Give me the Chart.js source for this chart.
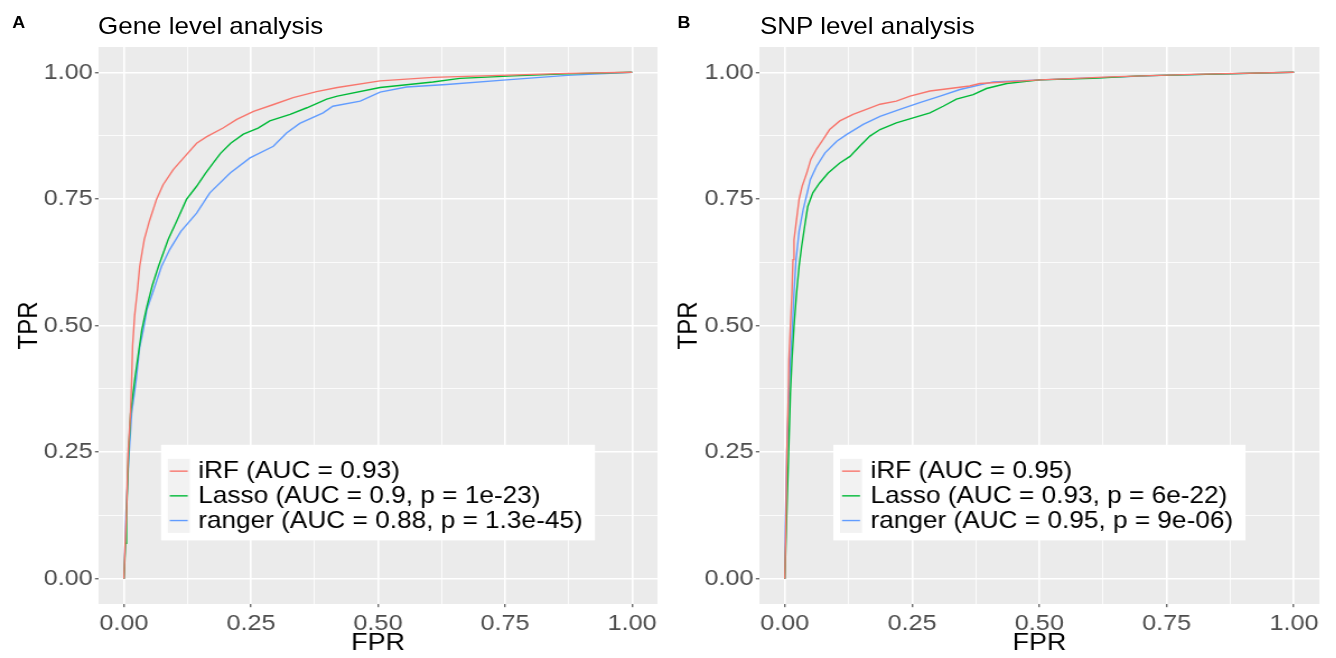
<!DOCTYPE html>
<html>
<head>
<meta charset="utf-8">
<script src="https://cdn.jsdelivr.net/npm/chart.js@4.4.1/dist/chart.umd.min.js"></script>
<style>
html, body { margin: 0; padding: 0; background: #fff; }
body { width: 1336px; height: 658px; overflow: hidden; font-family: "Liberation Sans", Arial, sans-serif; }
/* the reference text is a bit wide, so the whole figure is stretched a little */
#stage { position: absolute; left: 0; top: 0; width: 1193px; height: 658px; transform: scaleX(1.12); transform-origin: 0 0; }
canvas { position: absolute; top: 0; }
.tag { position: absolute; font-weight: bold; font-size: 16px; line-height: 1; color: #000; }
.kop { position: absolute; font-size: 23.2px; line-height: 1; color: #000; white-space: nowrap; }
</style>
</head>
<body>
<div id="stage">
  <div class="tag" style="left:11px; top:15px;">A</div>
  <div class="kop" style="left:87.5px; top:15.2px;">Gene level analysis</div>
  <div class="tag" style="left:605px; top:15px;">B</div>
  <div class="kop" style="left:678.6px; top:15.2px;">SNP level analysis</div>
  <canvas id="genePlot" width="594" height="658" style="left:0px;"></canvas>
  <canvas id="snpPlot" width="597" height="658" style="left:596px;"></canvas>
</div>
<script>
const gridBreaks = [0, 0.125, 0.25, 0.375, 0.5, 0.625, 0.75, 0.875, 1];

const cores = ["#F8766D", "#00BA38", "#619CFF"];

// painel A - gene level
const geneNomes = [
  "iRF (AUC = 0.93)",
  "Lasso (AUC = 0.9, p = 1e-23)",
  "ranger (AUC = 0.88, p = 1.3e-45)"
];

const geneIrfFpr = [0, 0.002, 0.005, 0.008, 0.013, 0.015, 0.017, 0.021, 0.027, 0.031, 0.04, 0.05, 0.064, 0.077, 0.097, 0.12, 0.143, 0.163, 0.195, 0.222, 0.255, 0.293, 0.333, 0.379, 0.42, 0.504, 0.608, 0.74, 0.872, 1];
const geneIrfTpr = [0, 0.06, 0.13, 0.247, 0.33, 0.39, 0.46, 0.52, 0.574, 0.617, 0.67, 0.706, 0.749, 0.778, 0.808, 0.834, 0.86, 0.873, 0.89, 0.907, 0.923, 0.936, 0.95, 0.962, 0.97, 0.983, 0.99, 0.994, 0.998, 1];

const geneLassoFpr = [0, 0.003, 0.005, 0.009, 0.013, 0.022, 0.035, 0.045, 0.056, 0.068, 0.087, 0.105, 0.123, 0.143, 0.16, 0.175, 0.19, 0.21, 0.235, 0.264, 0.287, 0.327, 0.36, 0.399, 0.42, 0.504, 0.608, 0.661, 0.766, 0.872, 1];
const geneLassoTpr = [0, 0.07, 0.129, 0.247, 0.326, 0.399, 0.491, 0.537, 0.58, 0.617, 0.67, 0.709, 0.749, 0.775, 0.8, 0.82, 0.84, 0.86, 0.878, 0.89, 0.904, 0.917, 0.93, 0.947, 0.953, 0.97, 0.981, 0.988, 0.993, 0.997, 1];

const geneRangerFpr = [0, 0.002, 0.004, 0.009, 0.015, 0.024, 0.031, 0.038, 0.045, 0.058, 0.074, 0.09, 0.112, 0.143, 0.169, 0.209, 0.248, 0.294, 0.32, 0.346, 0.392, 0.411, 0.465, 0.504, 0.556, 0.635, 0.753, 0.872, 0.957, 1];
const geneRangerTpr = [0, 0.06, 0.129, 0.228, 0.326, 0.392, 0.458, 0.491, 0.531, 0.569, 0.617, 0.65, 0.686, 0.722, 0.762, 0.801, 0.831, 0.854, 0.88, 0.899, 0.92, 0.933, 0.943, 0.961, 0.971, 0.976, 0.985, 0.994, 0.998, 1];

// painel B - SNP level
const snpNomes = [
  "iRF (AUC = 0.95)",
  "Lasso (AUC = 0.93, p = 6e-22)",
  "ranger (AUC = 0.95, p = 9e-06)"
];

const snpIrfFpr = [0, 0.002, 0.004, 0.007, 0.008, 0.011, 0.014, 0.016, 0.018, 0.023, 0.028, 0.034, 0.043, 0.051, 0.062, 0.075, 0.088, 0.108, 0.134, 0.16, 0.187, 0.219, 0.246, 0.285, 0.324, 0.363, 0.383, 0.501, 0.639, 0.8, 1];
const snpIrfTpr = [0, 0.102, 0.25, 0.366, 0.432, 0.498, 0.564, 0.63, 0.669, 0.709, 0.749, 0.775, 0.801, 0.828, 0.848, 0.867, 0.887, 0.904, 0.917, 0.927, 0.937, 0.943, 0.953, 0.963, 0.968, 0.973, 0.978, 0.985, 0.991, 0.996, 1];

const snpLassoFpr = [0, 0.003, 0.007, 0.011, 0.014, 0.018, 0.023, 0.028, 0.033, 0.039, 0.045, 0.055, 0.068, 0.085, 0.108, 0.128, 0.147, 0.167, 0.187, 0.219, 0.252, 0.285, 0.311, 0.337, 0.37, 0.396, 0.436, 0.501, 0.605, 0.697, 1];
const snpLassoTpr = [0, 0.102, 0.234, 0.366, 0.432, 0.498, 0.564, 0.617, 0.656, 0.696, 0.735, 0.762, 0.781, 0.801, 0.821, 0.834, 0.854, 0.874, 0.887, 0.9, 0.91, 0.92, 0.933, 0.947, 0.956, 0.968, 0.978, 0.985, 0.988, 0.993, 1];

const snpRangerFpr = [0, 0.001, 0.004, 0.008, 0.011, 0.015, 0.018, 0.022, 0.028, 0.036, 0.044, 0.05, 0.062, 0.079, 0.102, 0.121, 0.154, 0.187, 0.226, 0.265, 0.305, 0.344, 0.409, 0.501, 0.737, 1];
const snpRangerTpr = [0, 0.102, 0.25, 0.366, 0.432, 0.498, 0.564, 0.63, 0.686, 0.729, 0.762, 0.788, 0.814, 0.841, 0.864, 0.877, 0.897, 0.913, 0.927, 0.94, 0.953, 0.966, 0.981, 0.985, 0.994, 1];

const fonte = "'Liberation Sans', Arial, sans-serif";

function isMajor(v) {
  return Math.abs(v * 4 - Math.round(v * 4)) < 1e-6;
}

function pontos(fpr, tpr) {
  return fpr.map((x, i) => ({ x: x, y: tpr[i] }));
}

// fundo cinza do painel (estilo ggplot)
const fundoPainel = {
  id: "fundoPainel",
  beforeDraw(chart) {
    const { ctx, chartArea: a } = chart;
    ctx.save();
    ctx.fillStyle = "#EBEBEB";
    ctx.fillRect(a.left, a.top, a.right - a.left, a.bottom - a.top);
    ctx.restore();
  }
};

// legenda dentro do painel, centro em (0.5, 0.2)
const legendaDentro = {
  id: "legendaDentro",
  afterDatasetsDraw(chart) {
    const { ctx, chartArea: a } = chart;
    const sets = chart.data.datasets;
    ctx.save();
    ctx.font = "23.4px " + fonte;
    let maior = 0;
    sets.forEach(d => { maior = Math.max(maior, ctx.measureText(d.label).width); });
    const padL = 6, keyW = 19.6, gap = 7.6, padR = 11, padT = 14, padB = 7.5, rowH = 24.7;
    const w = padL + keyW + gap + maior + padR;
    const h = padT + padB + rowH * sets.length;
    const cx = (a.left + a.right) / 2;
    const cy = a.bottom - 0.2 * (a.bottom - a.top);
    const x0 = cx - w / 2;
    const y0 = cy - h / 2;
    ctx.fillStyle = "#FFFFFF";
    ctx.fillRect(x0, y0, w, h);
    ctx.fillStyle = "#F2F2F2";
    ctx.fillRect(x0 + padL, y0 + padT, keyW, rowH * sets.length);
    sets.forEach((d, i) => {
      const yc = y0 + padT + rowH * i + rowH / 2;
      ctx.strokeStyle = d.borderColor;
      ctx.lineWidth = 1.4;
      ctx.beginPath();
      ctx.moveTo(x0 + padL + 1.8, yc);
      ctx.lineTo(x0 + padL + keyW - 1.8, yc);
      ctx.stroke();
      ctx.fillStyle = "#000000";
      ctx.textBaseline = "middle";
      ctx.textAlign = "left";
      ctx.fillText(d.label, x0 + padL + keyW + gap, yc + 0.5);
    });
    ctx.restore();
  }
};

function escala(titulo, isX, tamanho, padTitulo) {
  return {
    type: "linear",
    min: -0.05,
    max: 1.05,
    afterBuildTicks: axis => { axis.ticks = gridBreaks.map(v => ({ value: v })); },
    afterFit: axis => {
      if (isX) axis.height = tamanho; else axis.width = tamanho;
    },
    ticks: {
      autoSkip: false,
      maxRotation: 0,
      padding: isX ? 3 : 2,
      color: "#4D4D4D",
      font: { family: fonte, size: 22.5 },
      callback: v => isMajor(v) ? v.toFixed(2) : ""
    },
    grid: {
      color: "#FFFFFF",
      lineWidth: c => isMajor(c.tick.value) ? 1.6 : 0.8,
      tickLength: 3.2,
      tickWidth: 1,
      tickColor: c => isMajor(c.tick.value) ? "#333333" : "rgba(0,0,0,0)"
    },
    border: { display: false },
    title: {
      display: true,
      text: titulo,
      color: "#000000",
      font: { family: fonte, size: 24 },
      padding: padTitulo
    }
  };
}

function desenhar(id, nomes, fprs, tprs, yLargura, padDireita, padTpr) {
  const datasets = nomes.map((nome, i) => ({
    label: nome,
    data: pontos(fprs[i], tprs[i]),
    borderColor: cores[i],
    borderWidth: 1.4,
    pointRadius: 0,
    showLine: true,
    tension: 0,
    fill: false
  }));

  return new Chart(document.getElementById(id), {
    type: "scatter",
    data: { datasets: datasets },
    options: {
      responsive: false,
      animation: false,
      layout: { padding: { left: 0, right: padDireita, top: 47, bottom: 0 } },
      plugins: {
        legend: { display: false },
        tooltip: { enabled: false }
      },
      scales: {
        x: escala("FPR", true, 54, { top: 0, bottom: 0 }),
        y: escala("TPR", false, yLargura, { top: padTpr, bottom: 0 })
      }
    },
    plugins: [fundoPainel, legendaDentro]
  });
}

desenhar("genePlot", geneNomes,
  [geneIrfFpr, geneLassoFpr, geneRangerFpr],
  [geneIrfTpr, geneLassoTpr, geneRangerTpr],
  88, 7, 12);

desenhar("snpPlot", snpNomes,
  [snpIrfFpr, snpLassoFpr, snpRangerFpr],
  [snpIrfTpr, snpLassoTpr, snpRangerTpr],
  82, 15, 5.2);
</script>
</body>
</html>
